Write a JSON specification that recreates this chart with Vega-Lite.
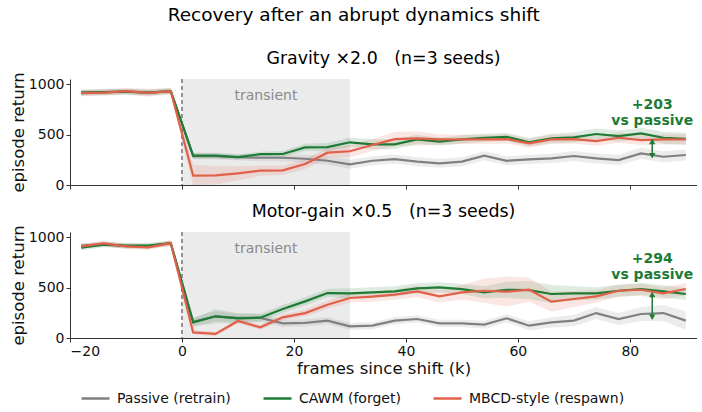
{
  "$schema": "https://vega.github.io/schema/vega-lite/v6.json",
  "padding": {"left": 10, "right": 0, "top": 5, "bottom": 2},
  "title": {"text": "Recovery after an abrupt dynamics shift", "fontSize": 18.5, "fontWeight": "normal", "anchor": "middle", "frame": "bounds", "offset": 26},
  "datasets": {
    "runs": [
      {"p":"G","s":"Passive (retrain)","x":-18,"y":915,"lo":885,"hi":945},
      {"p":"G","s":"Passive (retrain)","x":-14,"y":920,"lo":890,"hi":950},
      {"p":"G","s":"Passive (retrain)","x":-10,"y":925,"lo":895,"hi":955},
      {"p":"G","s":"Passive (retrain)","x":-6,"y":915,"lo":885,"hi":945},
      {"p":"G","s":"Passive (retrain)","x":-2,"y":930,"lo":900,"hi":960},
      {"p":"G","s":"Passive (retrain)","x":2,"y":285,"lo":255,"hi":315},
      {"p":"G","s":"Passive (retrain)","x":6,"y":285,"lo":255,"hi":315},
      {"p":"G","s":"Passive (retrain)","x":10,"y":275,"lo":245,"hi":305},
      {"p":"G","s":"Passive (retrain)","x":14,"y":270,"lo":235,"hi":305},
      {"p":"G","s":"Passive (retrain)","x":18,"y":270,"lo":235,"hi":305},
      {"p":"G","s":"Passive (retrain)","x":22,"y":260,"lo":220,"hi":300},
      {"p":"G","s":"Passive (retrain)","x":26,"y":240,"lo":200,"hi":280},
      {"p":"G","s":"Passive (retrain)","x":30,"y":205,"lo":160,"hi":250},
      {"p":"G","s":"Passive (retrain)","x":34,"y":240,"lo":195,"hi":285},
      {"p":"G","s":"Passive (retrain)","x":38,"y":257,"lo":212,"hi":302},
      {"p":"G","s":"Passive (retrain)","x":42,"y":231,"lo":186,"hi":276},
      {"p":"G","s":"Passive (retrain)","x":46,"y":215,"lo":170,"hi":260},
      {"p":"G","s":"Passive (retrain)","x":50,"y":231,"lo":186,"hi":276},
      {"p":"G","s":"Passive (retrain)","x":54,"y":290,"lo":245,"hi":335},
      {"p":"G","s":"Passive (retrain)","x":58,"y":240,"lo":195,"hi":285},
      {"p":"G","s":"Passive (retrain)","x":62,"y":254,"lo":209,"hi":299},
      {"p":"G","s":"Passive (retrain)","x":66,"y":264,"lo":219,"hi":309},
      {"p":"G","s":"Passive (retrain)","x":70,"y":287,"lo":237,"hi":337},
      {"p":"G","s":"Passive (retrain)","x":74,"y":264,"lo":214,"hi":314},
      {"p":"G","s":"Passive (retrain)","x":78,"y":247,"lo":197,"hi":297},
      {"p":"G","s":"Passive (retrain)","x":82,"y":313,"lo":258,"hi":368},
      {"p":"G","s":"Passive (retrain)","x":86,"y":280,"lo":225,"hi":335},
      {"p":"G","s":"Passive (retrain)","x":90,"y":297,"lo":242,"hi":352},
      {"p":"G","s":"CAWM (forget)","x":-18,"y":915,"lo":890,"hi":940},
      {"p":"G","s":"CAWM (forget)","x":-14,"y":920,"lo":895,"hi":945},
      {"p":"G","s":"CAWM (forget)","x":-10,"y":925,"lo":900,"hi":950},
      {"p":"G","s":"CAWM (forget)","x":-6,"y":915,"lo":890,"hi":940},
      {"p":"G","s":"CAWM (forget)","x":-2,"y":930,"lo":905,"hi":955},
      {"p":"G","s":"CAWM (forget)","x":2,"y":290,"lo":260,"hi":320},
      {"p":"G","s":"CAWM (forget)","x":6,"y":290,"lo":260,"hi":320},
      {"p":"G","s":"CAWM (forget)","x":10,"y":277,"lo":252,"hi":302},
      {"p":"G","s":"CAWM (forget)","x":14,"y":305,"lo":280,"hi":330},
      {"p":"G","s":"CAWM (forget)","x":18,"y":307,"lo":277,"hi":337},
      {"p":"G","s":"CAWM (forget)","x":22,"y":373,"lo":338,"hi":408},
      {"p":"G","s":"CAWM (forget)","x":26,"y":375,"lo":335,"hi":415},
      {"p":"G","s":"CAWM (forget)","x":30,"y":423,"lo":378,"hi":468},
      {"p":"G","s":"CAWM (forget)","x":34,"y":403,"lo":353,"hi":453},
      {"p":"G","s":"CAWM (forget)","x":38,"y":403,"lo":353,"hi":453},
      {"p":"G","s":"CAWM (forget)","x":42,"y":452,"lo":407,"hi":497},
      {"p":"G","s":"CAWM (forget)","x":46,"y":429,"lo":389,"hi":469},
      {"p":"G","s":"CAWM (forget)","x":50,"y":452,"lo":412,"hi":492},
      {"p":"G","s":"CAWM (forget)","x":54,"y":468,"lo":428,"hi":508},
      {"p":"G","s":"CAWM (forget)","x":58,"y":478,"lo":438,"hi":518},
      {"p":"G","s":"CAWM (forget)","x":62,"y":423,"lo":383,"hi":463},
      {"p":"G","s":"CAWM (forget)","x":66,"y":462,"lo":417,"hi":507},
      {"p":"G","s":"CAWM (forget)","x":70,"y":472,"lo":422,"hi":522},
      {"p":"G","s":"CAWM (forget)","x":74,"y":505,"lo":450,"hi":560},
      {"p":"G","s":"CAWM (forget)","x":78,"y":485,"lo":430,"hi":540},
      {"p":"G","s":"CAWM (forget)","x":82,"y":512,"lo":457,"hi":567},
      {"p":"G","s":"CAWM (forget)","x":86,"y":468,"lo":408,"hi":528},
      {"p":"G","s":"CAWM (forget)","x":90,"y":458,"lo":398,"hi":518},
      {"p":"G","s":"MBCD-style (respawn)","x":-18,"y":910,"lo":880,"hi":940},
      {"p":"G","s":"MBCD-style (respawn)","x":-14,"y":915,"lo":885,"hi":945},
      {"p":"G","s":"MBCD-style (respawn)","x":-10,"y":930,"lo":900,"hi":960},
      {"p":"G","s":"MBCD-style (respawn)","x":-6,"y":913,"lo":873,"hi":953},
      {"p":"G","s":"MBCD-style (respawn)","x":-2,"y":930,"lo":900,"hi":960},
      {"p":"G","s":"MBCD-style (respawn)","x":2,"y":92,"lo":0,"hi":200},
      {"p":"G","s":"MBCD-style (respawn)","x":6,"y":95,"lo":5,"hi":185},
      {"p":"G","s":"MBCD-style (respawn)","x":10,"y":115,"lo":45,"hi":185},
      {"p":"G","s":"MBCD-style (respawn)","x":14,"y":142,"lo":92,"hi":192},
      {"p":"G","s":"MBCD-style (respawn)","x":18,"y":145,"lo":100,"hi":190},
      {"p":"G","s":"MBCD-style (respawn)","x":22,"y":208,"lo":158,"hi":258},
      {"p":"G","s":"MBCD-style (respawn)","x":26,"y":320,"lo":270,"hi":370},
      {"p":"G","s":"MBCD-style (respawn)","x":30,"y":334,"lo":274,"hi":394},
      {"p":"G","s":"MBCD-style (respawn)","x":34,"y":396,"lo":336,"hi":456},
      {"p":"G","s":"MBCD-style (respawn)","x":38,"y":455,"lo":385,"hi":525},
      {"p":"G","s":"MBCD-style (respawn)","x":42,"y":462,"lo":392,"hi":532},
      {"p":"G","s":"MBCD-style (respawn)","x":46,"y":452,"lo":402,"hi":502},
      {"p":"G","s":"MBCD-style (respawn)","x":50,"y":452,"lo":407,"hi":497},
      {"p":"G","s":"MBCD-style (respawn)","x":54,"y":452,"lo":407,"hi":497},
      {"p":"G","s":"MBCD-style (respawn)","x":58,"y":455,"lo":410,"hi":500},
      {"p":"G","s":"MBCD-style (respawn)","x":62,"y":413,"lo":368,"hi":458},
      {"p":"G","s":"MBCD-style (respawn)","x":66,"y":452,"lo":407,"hi":497},
      {"p":"G","s":"MBCD-style (respawn)","x":70,"y":455,"lo":410,"hi":500},
      {"p":"G","s":"MBCD-style (respawn)","x":74,"y":435,"lo":390,"hi":480},
      {"p":"G","s":"MBCD-style (respawn)","x":78,"y":468,"lo":418,"hi":518},
      {"p":"G","s":"MBCD-style (respawn)","x":82,"y":445,"lo":395,"hi":495},
      {"p":"G","s":"MBCD-style (respawn)","x":86,"y":452,"lo":402,"hi":502},
      {"p":"G","s":"MBCD-style (respawn)","x":90,"y":452,"lo":402,"hi":502},
      {"p":"M","s":"Passive (retrain)","x":-18,"y":915,"lo":890,"hi":940},
      {"p":"M","s":"Passive (retrain)","x":-14,"y":930,"lo":905,"hi":955},
      {"p":"M","s":"Passive (retrain)","x":-10,"y":910,"lo":885,"hi":935},
      {"p":"M","s":"Passive (retrain)","x":-6,"y":910,"lo":885,"hi":935},
      {"p":"M","s":"Passive (retrain)","x":-2,"y":940,"lo":915,"hi":965},
      {"p":"M","s":"Passive (retrain)","x":2,"y":160,"lo":120,"hi":200},
      {"p":"M","s":"Passive (retrain)","x":6,"y":215,"lo":165,"hi":265},
      {"p":"M","s":"Passive (retrain)","x":10,"y":200,"lo":160,"hi":240},
      {"p":"M","s":"Passive (retrain)","x":14,"y":200,"lo":160,"hi":240},
      {"p":"M","s":"Passive (retrain)","x":18,"y":145,"lo":110,"hi":180},
      {"p":"M","s":"Passive (retrain)","x":22,"y":150,"lo":115,"hi":185},
      {"p":"M","s":"Passive (retrain)","x":26,"y":172,"lo":137,"hi":207},
      {"p":"M","s":"Passive (retrain)","x":30,"y":116,"lo":81,"hi":151},
      {"p":"M","s":"Passive (retrain)","x":34,"y":122,"lo":87,"hi":157},
      {"p":"M","s":"Passive (retrain)","x":38,"y":172,"lo":137,"hi":207},
      {"p":"M","s":"Passive (retrain)","x":42,"y":188,"lo":153,"hi":223},
      {"p":"M","s":"Passive (retrain)","x":46,"y":145,"lo":110,"hi":180},
      {"p":"M","s":"Passive (retrain)","x":50,"y":145,"lo":110,"hi":180},
      {"p":"M","s":"Passive (retrain)","x":54,"y":132,"lo":92,"hi":172},
      {"p":"M","s":"Passive (retrain)","x":58,"y":195,"lo":155,"hi":235},
      {"p":"M","s":"Passive (retrain)","x":62,"y":122,"lo":77,"hi":167},
      {"p":"M","s":"Passive (retrain)","x":66,"y":155,"lo":105,"hi":205},
      {"p":"M","s":"Passive (retrain)","x":70,"y":172,"lo":117,"hi":227},
      {"p":"M","s":"Passive (retrain)","x":74,"y":247,"lo":187,"hi":307},
      {"p":"M","s":"Passive (retrain)","x":78,"y":188,"lo":128,"hi":248},
      {"p":"M","s":"Passive (retrain)","x":82,"y":238,"lo":168,"hi":308},
      {"p":"M","s":"Passive (retrain)","x":86,"y":247,"lo":167,"hi":327},
      {"p":"M","s":"Passive (retrain)","x":90,"y":172,"lo":82,"hi":262},
      {"p":"M","s":"CAWM (forget)","x":-18,"y":895,"lo":870,"hi":920},
      {"p":"M","s":"CAWM (forget)","x":-14,"y":925,"lo":900,"hi":950},
      {"p":"M","s":"CAWM (forget)","x":-10,"y":915,"lo":890,"hi":940},
      {"p":"M","s":"CAWM (forget)","x":-6,"y":915,"lo":890,"hi":940},
      {"p":"M","s":"CAWM (forget)","x":-2,"y":940,"lo":915,"hi":965},
      {"p":"M","s":"CAWM (forget)","x":2,"y":155,"lo":115,"hi":195},
      {"p":"M","s":"CAWM (forget)","x":6,"y":215,"lo":145,"hi":285},
      {"p":"M","s":"CAWM (forget)","x":10,"y":195,"lo":145,"hi":245},
      {"p":"M","s":"CAWM (forget)","x":14,"y":201,"lo":161,"hi":241},
      {"p":"M","s":"CAWM (forget)","x":18,"y":287,"lo":247,"hi":327},
      {"p":"M","s":"CAWM (forget)","x":22,"y":363,"lo":323,"hi":403},
      {"p":"M","s":"CAWM (forget)","x":26,"y":445,"lo":405,"hi":485},
      {"p":"M","s":"CAWM (forget)","x":30,"y":442,"lo":392,"hi":492},
      {"p":"M","s":"CAWM (forget)","x":34,"y":452,"lo":402,"hi":502},
      {"p":"M","s":"CAWM (forget)","x":38,"y":462,"lo":412,"hi":512},
      {"p":"M","s":"CAWM (forget)","x":42,"y":492,"lo":442,"hi":542},
      {"p":"M","s":"CAWM (forget)","x":46,"y":502,"lo":452,"hi":552},
      {"p":"M","s":"CAWM (forget)","x":50,"y":485,"lo":435,"hi":535},
      {"p":"M","s":"CAWM (forget)","x":54,"y":452,"lo":392,"hi":512},
      {"p":"M","s":"CAWM (forget)","x":58,"y":478,"lo":398,"hi":558},
      {"p":"M","s":"CAWM (forget)","x":62,"y":475,"lo":385,"hi":565},
      {"p":"M","s":"CAWM (forget)","x":66,"y":436,"lo":346,"hi":526},
      {"p":"M","s":"CAWM (forget)","x":70,"y":442,"lo":372,"hi":512},
      {"p":"M","s":"CAWM (forget)","x":74,"y":442,"lo":382,"hi":502},
      {"p":"M","s":"CAWM (forget)","x":78,"y":468,"lo":408,"hi":528},
      {"p":"M","s":"CAWM (forget)","x":82,"y":485,"lo":425,"hi":545},
      {"p":"M","s":"CAWM (forget)","x":86,"y":462,"lo":402,"hi":522},
      {"p":"M","s":"CAWM (forget)","x":90,"y":436,"lo":376,"hi":496},
      {"p":"M","s":"MBCD-style (respawn)","x":-18,"y":908,"lo":883,"hi":933},
      {"p":"M","s":"MBCD-style (respawn)","x":-14,"y":937,"lo":912,"hi":962},
      {"p":"M","s":"MBCD-style (respawn)","x":-10,"y":908,"lo":883,"hi":933},
      {"p":"M","s":"MBCD-style (respawn)","x":-6,"y":898,"lo":873,"hi":923},
      {"p":"M","s":"MBCD-style (respawn)","x":-2,"y":940,"lo":915,"hi":965},
      {"p":"M","s":"MBCD-style (respawn)","x":2,"y":56,"lo":36,"hi":76},
      {"p":"M","s":"MBCD-style (respawn)","x":6,"y":40,"lo":20,"hi":60},
      {"p":"M","s":"MBCD-style (respawn)","x":10,"y":168,"lo":143,"hi":193},
      {"p":"M","s":"MBCD-style (respawn)","x":14,"y":106,"lo":81,"hi":131},
      {"p":"M","s":"MBCD-style (respawn)","x":18,"y":205,"lo":175,"hi":235},
      {"p":"M","s":"MBCD-style (respawn)","x":22,"y":247,"lo":212,"hi":282},
      {"p":"M","s":"MBCD-style (respawn)","x":26,"y":330,"lo":290,"hi":370},
      {"p":"M","s":"MBCD-style (respawn)","x":30,"y":396,"lo":351,"hi":441},
      {"p":"M","s":"MBCD-style (respawn)","x":34,"y":409,"lo":359,"hi":459},
      {"p":"M","s":"MBCD-style (respawn)","x":38,"y":429,"lo":379,"hi":479},
      {"p":"M","s":"MBCD-style (respawn)","x":42,"y":462,"lo":407,"hi":517},
      {"p":"M","s":"MBCD-style (respawn)","x":46,"y":412,"lo":352,"hi":472},
      {"p":"M","s":"MBCD-style (respawn)","x":50,"y":452,"lo":382,"hi":522},
      {"p":"M","s":"MBCD-style (respawn)","x":54,"y":468,"lo":348,"hi":588},
      {"p":"M","s":"MBCD-style (respawn)","x":58,"y":459,"lo":309,"hi":609},
      {"p":"M","s":"MBCD-style (respawn)","x":62,"y":478,"lo":358,"hi":598},
      {"p":"M","s":"MBCD-style (respawn)","x":66,"y":360,"lo":260,"hi":460},
      {"p":"M","s":"MBCD-style (respawn)","x":70,"y":386,"lo":306,"hi":466},
      {"p":"M","s":"MBCD-style (respawn)","x":74,"y":412,"lo":352,"hi":472},
      {"p":"M","s":"MBCD-style (respawn)","x":78,"y":468,"lo":408,"hi":528},
      {"p":"M","s":"MBCD-style (respawn)","x":82,"y":478,"lo":418,"hi":538},
      {"p":"M","s":"MBCD-style (respawn)","x":86,"y":442,"lo":382,"hi":502},
      {"p":"M","s":"MBCD-style (respawn)","x":90,"y":485,"lo":425,"hi":545}
    ],
    "notes": [
      {"p":"G","x":84,"lo":290,"hi":430,"label":["+203","vs passive"],"ty":790},
      {"p":"M","x":84,"lo":205,"hi":430,"label":["+294","vs passive"],"ty":780}
    ]
  },
  "vconcat": [
    {
      "width": 627, "height": 106,
      "title": {"text": "Gravity ×2.0\u00a0\u00a0\u00a0(n=3 seeds)", "fontSize": 17.4, "fontWeight": "normal", "offset": 4},
      "layer": [
        {"data": {"values": [{}]}, "mark": {"type": "rect", "color": "#ebebeb"}, "encoding": {"x": {"datum": 0, "type": "quantitative", "scale": {"domain": [-20, 92], "nice": false, "zero": false}}, "x2": {"datum": 30}}},
        {"data": {"values": [{}]}, "mark": {"type": "text", "text": "transient", "color": "#8a8a8a", "fontSize": 14}, "encoding": {"x": {"datum": 15, "type": "quantitative"}, "y": {"datum": 880, "type": "quantitative"}}},
        {"data": {"values": [{}]}, "mark": {"type": "rule", "color": "#333", "strokeDash": [4, 3], "strokeWidth": 1}, "encoding": {"x": {"datum": 0, "type": "quantitative"}}},
        {"data": {"name": "runs"}, "transform": [{"filter": "datum.p == 'G'"}],
         "mark": {"type": "area", "fillOpacity": 0.15},
         "encoding": {"x": {"field": "x", "type": "quantitative"}, "y": {"field": "lo", "type": "quantitative"}, "y2": {"field": "hi"},
           "color": {"field": "s", "type": "nominal", "legend": null, "scale": {"domain": ["Passive (retrain)", "CAWM (forget)", "MBCD-style (respawn)"], "range": ["#808080", "#1e7b35", "#e0604a"]}}}},
        {"data": {"name": "runs"}, "transform": [{"filter": "datum.p == 'G'"}],
         "mark": {"type": "line", "strokeWidth": 2.2},
         "encoding": {"x": {"field": "x", "type": "quantitative", "scale": {"domain": [-20, 92], "nice": false, "zero": false},
             "axis": {"values": [-20, 0, 20, 40, 60, 80], "labels": false, "title": null}},
           "y": {"field": "y", "type": "quantitative", "scale": {"domain": [0, 1050], "nice": false}, "axis": {"values": [0, 500, 1000], "format": "d", "title": "episode return"}},
           "color": {"field": "s", "type": "nominal", "scale": {"domain": ["Passive (retrain)", "CAWM (forget)", "MBCD-style (respawn)"], "range": ["#808080", "#1e7b35", "#e0604a"]}, "legend": null}}},
        {"data": {"name": "notes"}, "transform": [{"filter": "datum.p == 'G'"}],
         "mark": {"type": "rule", "color": "#1e7b35", "strokeWidth": 1.5},
         "encoding": {"x": {"field": "x", "type": "quantitative"}, "y": {"field": "lo", "type": "quantitative"}, "y2": {"field": "hi"}}},
        {"data": {"name": "notes"}, "transform": [{"filter": "datum.p == 'G'"}],
         "mark": {"type": "point", "shape": "triangle-up", "filled": true, "color": "#1e7b35", "size": 40, "opacity": 1},
         "encoding": {"x": {"field": "x", "type": "quantitative"}, "y": {"field": "hi", "type": "quantitative"}}},
        {"data": {"name": "notes"}, "transform": [{"filter": "datum.p == 'G'"}],
         "mark": {"type": "point", "shape": "triangle-down", "filled": true, "color": "#1e7b35", "size": 40, "opacity": 1},
         "encoding": {"x": {"field": "x", "type": "quantitative"}, "y": {"field": "lo", "type": "quantitative"}}},
        {"data": {"name": "notes"}, "transform": [{"filter": "datum.p == 'G'"}],
         "mark": {"type": "text", "color": "#1e7b35", "fontWeight": "bold", "fontSize": 14, "lineHeight": 16},
         "encoding": {"x": {"field": "x", "type": "quantitative"}, "y": {"field": "ty", "type": "quantitative"}, "text": {"field": "label"}}}
      ]
    },
    {
      "width": 627, "height": 106,
      "title": {"text": "Motor-gain ×0.5\u00a0\u00a0\u00a0(n=3 seeds)", "fontSize": 17.4, "fontWeight": "normal", "offset": 4},
      "layer": [
        {"data": {"values": [{}]}, "mark": {"type": "rect", "color": "#ebebeb"}, "encoding": {"x": {"datum": 0, "type": "quantitative", "scale": {"domain": [-20, 92], "nice": false, "zero": false}}, "x2": {"datum": 30}}},
        {"data": {"values": [{}]}, "mark": {"type": "text", "text": "transient", "color": "#8a8a8a", "fontSize": 14}, "encoding": {"x": {"datum": 15, "type": "quantitative"}, "y": {"datum": 880, "type": "quantitative"}}},
        {"data": {"values": [{}]}, "mark": {"type": "rule", "color": "#333", "strokeDash": [4, 3], "strokeWidth": 1}, "encoding": {"x": {"datum": 0, "type": "quantitative"}}},
        {"data": {"name": "runs"}, "transform": [{"filter": "datum.p == 'M'"}],
         "mark": {"type": "area", "fillOpacity": 0.15},
         "encoding": {"x": {"field": "x", "type": "quantitative"}, "y": {"field": "lo", "type": "quantitative"}, "y2": {"field": "hi"},
           "color": {"field": "s", "type": "nominal", "scale": {"domain": ["Passive (retrain)", "CAWM (forget)", "MBCD-style (respawn)"], "range": ["#808080", "#1e7b35", "#e0604a"]}}}},
        {"data": {"name": "runs"}, "transform": [{"filter": "datum.p == 'M'"}],
         "mark": {"type": "line", "strokeWidth": 2.2},
         "encoding": {"x": {"field": "x", "type": "quantitative", "scale": {"domain": [-20, 92], "nice": false, "zero": false},
             "axis": {"values": [-20, 0, 20, 40, 60, 80], "title": "frames since shift (k)", "titlePadding": 2, "labelPadding": 2}},
           "y": {"field": "y", "type": "quantitative", "scale": {"domain": [0, 1050], "nice": false}, "axis": {"values": [0, 500, 1000], "format": "d", "title": "episode return"}},
           "color": {"field": "s", "type": "nominal", "scale": {"domain": ["Passive (retrain)", "CAWM (forget)", "MBCD-style (respawn)"], "range": ["#808080", "#1e7b35", "#e0604a"]},
             "legend": {"orient": "none", "legendX": 10, "legendY": 151, "direction": "horizontal", "gridAlign": "none", "title": null, "symbolType": "stroke", "symbolStrokeWidth": 2.5, "symbolSize": 784, "symbolOpacity": 1, "labelOffset": 6, "columnPadding": 27, "labelFontSize": 14, "labelColor": "#111"}}}},
        {"data": {"name": "notes"}, "transform": [{"filter": "datum.p == 'M'"}],
         "mark": {"type": "rule", "color": "#1e7b35", "strokeWidth": 1.5},
         "encoding": {"x": {"field": "x", "type": "quantitative"}, "y": {"field": "lo", "type": "quantitative"}, "y2": {"field": "hi"}}},
        {"data": {"name": "notes"}, "transform": [{"filter": "datum.p == 'M'"}],
         "mark": {"type": "point", "shape": "triangle-up", "filled": true, "color": "#1e7b35", "size": 40, "opacity": 1},
         "encoding": {"x": {"field": "x", "type": "quantitative"}, "y": {"field": "hi", "type": "quantitative"}}},
        {"data": {"name": "notes"}, "transform": [{"filter": "datum.p == 'M'"}],
         "mark": {"type": "point", "shape": "triangle-down", "filled": true, "color": "#1e7b35", "size": 40, "opacity": 1},
         "encoding": {"x": {"field": "x", "type": "quantitative"}, "y": {"field": "lo", "type": "quantitative"}}},
        {"data": {"name": "notes"}, "transform": [{"filter": "datum.p == 'M'"}],
         "mark": {"type": "text", "color": "#1e7b35", "fontWeight": "bold", "fontSize": 14, "lineHeight": 16},
         "encoding": {"x": {"field": "x", "type": "quantitative"}, "y": {"field": "ty", "type": "quantitative"}, "text": {"field": "label"}}}
      ]
    }
  ],
  "spacing": 10,
  "resolve": {"scale": {"color": "independent"}, "legend": {"color": "independent"}},
  "config": {
    "font": "DejaVu Sans",
    "view": {"stroke": null},
    "axis": {"grid": false, "domainColor": "#333", "tickColor": "#333", "labelColor": "#111", "titleColor": "#111", "labelFontSize": 14, "titleFontSize": 16.5, "titleFontWeight": "normal", "tickSize": 4, "labelPadding": 2, "titlePadding": 2}
  }
}
